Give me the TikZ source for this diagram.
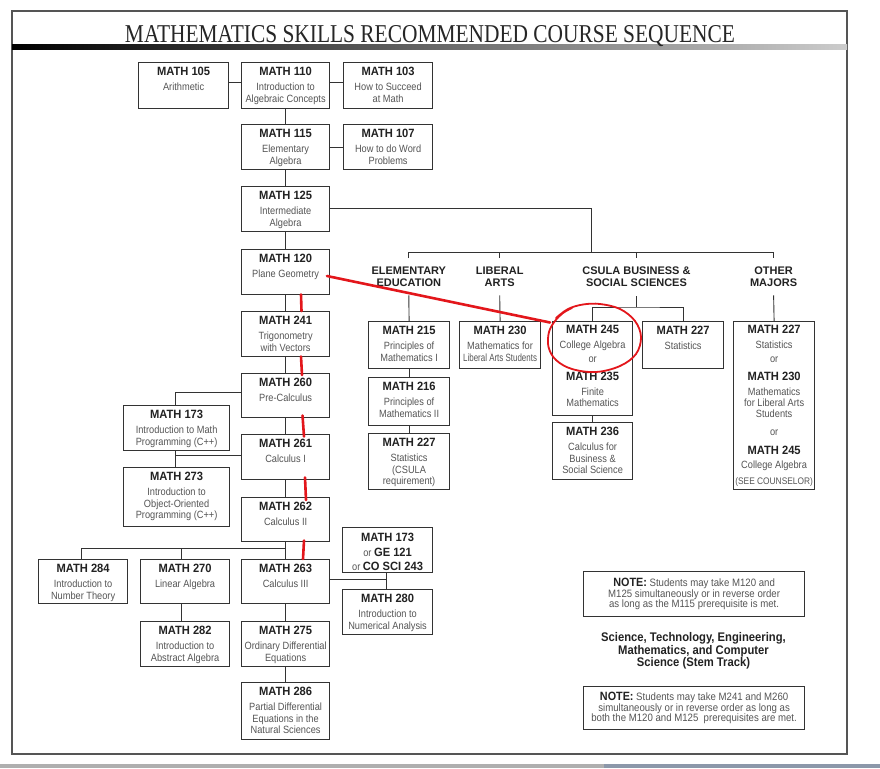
\documentclass[tikz,border=0pt]{standalone}
\usepackage{fontspec}
\usepackage{graphicx}
\setmainfont{Liberation Sans}
\newfontfamily\hdfont{Liberation Serif}
\newfontfamily\descf[FakeStretch=0.88]{Liberation Sans}
\newfontfamily\ttlf[FakeStretch=0.93]{Liberation Sans}
\newfontfamily\notef[FakeStretch=0.9]{Liberation Sans}
\definecolor{ink}{HTML}{222222}
\definecolor{desc}{HTML}{555555}
\definecolor{lineC}{HTML}{333333}
\definecolor{redC}{HTML}{E3161B}
\definecolor{frameC}{HTML}{555555}
\definecolor{stripA}{RGB}{175,175,175}
\definecolor{stripB}{RGB}{140,152,170}
\newcommand\crsT[1]{{\ttlf\bfseries\fontsize{12}{13}\selectfont\color{ink}#1}}
\newcommand\mkbox[5]{\node[box, minimum width={#4-#2}, minimum height={#5-#3}, anchor=north west] (#1) at (#2,#3) {};}
\newcommand\mkcourse[7]{\mkbox{#1}{#2}{#3}{#4}{#5}\node[txt] (#1-t) at ([yshift=-4.7pt]#1.north) {\crsT{#6}\\[4.3pt]#7};}
\begin{document}
\begin{tikzpicture}[x=1pt,y=-1pt,
  box/.style={draw=lineC, line width=1.2pt, inner sep=0pt, rectangle},
  txt/.style={anchor=north, align=center, inner sep=0pt, font=\descf\fontsize{10.5}{11.3}\selectfont, text=desc},
  conn/.style={draw=lineC, line width=0.9pt},
  grp/.style={align=center, inner sep=0pt, font=\bfseries\fontsize{11}{11.6}\selectfont, text=ink},
  notetxt/.style={align=center, inner sep=0pt, font=\notef\fontsize{10.7}{10.6}\selectfont, text=desc},
  stemtxt/.style={align=center, inner sep=0pt, font=\notef\bfseries\fontsize{12.5}{10.8}\selectfont, text=ink},
  redpen/.style={draw=redC, line width=2.6pt, line cap=round},
  redcirc/.style={draw=redC, line width=1.8pt, line cap=round}]
\useasboundingbox (0,0) rectangle (880,768);
\fill[white] (0,0) rectangle (880,768);
% frame and header
\draw[draw=frameC, line width=1.3pt] (12,11) rectangle (847,754);
\shade[left color=black, right color=black!20] (12,45) rectangle (847,50);
\node[anchor=base, inner sep=0pt, text=black!85] (title) at (430,42) {\resizebox{610pt}{17pt}{\hdfont MATHEMATICS SKILLS RECOMMENDED COURSE SEQUENCE}};
\fill[stripA] (0,764) rectangle (604,768);
\fill[stripB] (604,764) rectangle (880,768);

% main column
\mkcourse{m105}{138}{62}{228}{108}{MATH 105}{Arithmetic}
\mkcourse{m110}{241}{62}{329}{108}{MATH 110}{Introduction to\\Algebraic Concepts}
\mkcourse{m103}{343}{62}{432}{108}{MATH 103}{How to Succeed\\at Math}
\mkcourse{m115}{241}{124}{329}{169}{MATH 115}{Elementary\\Algebra}
\mkcourse{m107}{343}{124}{432}{169}{MATH 107}{How to do Word\\Problems}
\mkcourse{m125}{241}{186}{329}{231}{MATH 125}{Intermediate\\Algebra}
\mkcourse{m120}{241}{249}{329}{294}{MATH 120}{Plane Geometry}
\mkcourse{m241}{241}{311}{329}{356}{MATH 241}{Trigonometry\\with Vectors}
\mkcourse{m260}{241}{373}{329}{417}{MATH 260}{Pre-Calculus}
\mkcourse{m261}{241}{434}{329}{479}{MATH 261}{Calculus I}
\mkcourse{m262}{241}{497}{329}{541}{MATH 262}{Calculus II}
\mkcourse{m263}{241}{559}{329}{603}{MATH 263}{Calculus III}
\mkcourse{m173a}{123}{405}{229}{450}{MATH 173}{Introduction to Math\\Programming (C++)}
\mkcourse{m273}{123}{467}{229}{526}{MATH 273}{Introduction to\\Object-Oriented\\Programming (C++)}
\mkcourse{m284}{38}{559}{127}{603}{MATH 284}{Introduction to\\Number Theory}
\mkcourse{m270}{140}{559}{229}{603}{MATH 270}{Linear Algebra}
\mkcourse{m282}{140}{621}{229}{666}{MATH 282}{Introduction to\\Abstract Algebra}
\mkcourse{m275}{241}{621}{329}{666}{MATH 275}{Ordinary Differential\\Equations}
\mkcourse{m286}{241}{682}{329}{739}{MATH 286}{Partial Differential\\Equations in the\\Natural Sciences}
\mkbox{m173b}{342}{527}{432}{572}
\node[txt] (m173b-t) at ([yshift=-6pt]m173b.north) {\crsT{MATH 173}\\[3.7pt]or \crsT{GE 121}\\[3.1pt]or \crsT{CO SCI 243}};
\mkcourse{m280}{342}{589}{432}{634}{MATH 280}{Introduction to\\Numerical Analysis}

% majors
\mkcourse{m215}{368}{321}{449}{368}{MATH 215}{Principles of\\Mathematics I}
\mkcourse{m216}{368}{377}{449}{425}{MATH 216}{Principles of\\Mathematics II}
\mkcourse{m227a}{368}{433}{449}{489}{MATH 227}{Statistics\\(CSULA\\requirement)}
\mkcourse{m230}{459}{321}{540}{368}{MATH 230}{Mathematics for\\\scalebox{0.86}[1]{Liberal Arts Students}}
\mkbox{m245}{552}{321}{632}{415}
\node[txt] (m245-t) at ([yshift=-4pt]m245.north) {\crsT{MATH 245}\\[3.7pt]College Algebra\\[2.8pt]or\\[7pt]\crsT{MATH 235}\\[3.3pt]Finite\\Mathematics};
\mkcourse{m236}{552}{422}{632}{479}{MATH 236}{Calculus for\\Business \&\\Social Science}
\mkcourse{m227b}{642}{321}{723}{368}{MATH 227}{Statistics}
\mkbox{m227c}{733}{321}{814}{489}
\node[txt] (m227c-t) at ([yshift=-4pt]m227c.north) {\crsT{MATH 227}\\[3.7pt]Statistics\\[2.8pt]or\\[7pt]\crsT{MATH 230}\\[3pt]Mathematics\\for Liberal Arts\\Students\\[6.1pt]or\\[8pt]\crsT{MATH 245}\\[3pt]College Algebra\\[4.6pt]{\fontsize{9.5}{10}\selectfont(SEE COUNSELOR)}};

% group labels
\node[grp] (gEE) at (408.8,276.5) {ELEMENTARY\\EDUCATION};
\node[grp] (gLA) at (499.7,276.5) {LIBERAL\\ARTS};
\node[grp] (gCS) at (636.5,276.5) {CSULA BUSINESS \&\\SOCIAL SCIENCES};
\node[grp] (gOM) at (773.6,276.5) {OTHER\\MAJORS};

% notes
\mkbox{n1}{583}{571}{804}{616}
\node[notetxt] (n1-t) at (n1) {{\bfseries\fontsize{12}{10.6}\selectfont\color{ink}NOTE:} Students may take M120 and\\M125 simultaneously or in reverse order\\as long as the M115 prerequisite is met.};
\node[stemtxt] (stem) at (693.5,651) {Science, Technology, Engineering,\\Mathematics, and Computer\\Science (Stem Track)};
\mkbox{n2}{583}{686}{804}{729}
\node[notetxt] (n2-t) at (n2) {{\bfseries\fontsize{12}{10.6}\selectfont\color{ink}NOTE:} Students may take M241 and M260\\simultaneously or in reverse order as long as\\both the M120 and M125\ \ prerequisites are met.};

% connectors, top and main column
\draw[conn] ([yshift=3pt]m105.east) -- ([yshift=3pt]m110.west);
\draw[conn] ([yshift=3pt]m110.east) -- ([yshift=3pt]m103.west);
\draw[conn] (m110) -- (m115);
\draw[conn] (m115) -- (m107);
\draw[conn] (m115) -- (m125);
\draw[conn] (m125) -- (m120);
\draw[conn] (m120) -- (m241);
\draw[conn] (m241) -- (m260);
\draw[conn] (m260) -- (m261);
\draw[conn] (m261) -- (m262);
\draw[conn] (m262) -- (m263);
\draw[conn] (m263) -- (m275);
\draw[conn] (m275) -- (m286);
\draw[conn] ([yshift=3pt]m260.west) -| ([xshift=-1.5pt]m173a.north);
\draw[conn] ([yshift=1.5pt]m261.west) -| ([xshift=-1.5pt]m273.north);
\draw[conn] ([xshift=-1.5pt]m173a.south) -- ([xshift=-1.5pt]m273.north);
\coordinate (j1) at (285,548);
\draw[conn] ([xshift=-1.5pt]m284.north) |- (j1);
\draw[conn] ([xshift=-3.5pt]m270.north) -- ([xshift=-3.5pt]m270.north |- j1);
\draw[conn] ([xshift=-3.5pt]m270.south) -- ([xshift=-3.5pt]m282.north);
\draw[conn] ([yshift=2pt]m263.east) -| ([xshift=-1pt]m173b.south);
\draw[conn] ([xshift=-1pt]m173b.south) -- ([xshift=-1pt]m280.north);

% connectors, majors
\coordinate (barC) at (591,252);
\coordinate (barL) at (408.8,252);
\coordinate (barR) at (773.6,252);
\coordinate (tkL) at (408.8,258);
\coordinate (tkA) at (499.7,258);
\coordinate (tkAt) at (499.7,252);
\coordinate (tkC) at (636.5,258);
\coordinate (tkCt) at (636.5,252);
\coordinate (tkR) at (773.6,258);
\draw[conn] ([yshift=0.5pt]m125.east) -| (barC);
\draw[conn] (tkL) -- (barL) -- (barR) -- (tkR);
\draw[conn] (tkAt) -- (tkA);
\draw[conn] (tkCt) -- (tkC);
\draw[conn] ([yshift=-9pt]gEE.south) -- (m215.north);
\draw[conn] ([yshift=-9pt]gLA.south) -- (m230.north);
\draw[conn] ([yshift=-9pt]gOM.south) -- (m227c.north);
\coordinate (csJ) at (636.5,307);
\draw[conn] ([yshift=-10pt]gCS.south) -- (csJ);
\draw[conn] (m245.north) |- (csJ) -| (m227b.north);
\draw[conn] (m215) -- (m216);
\draw[conn] (m216) -- (m227a);
\draw[conn] (m245) -- (m236);

% red annotations
\draw[redpen] (327,276) -- (550,322.5);
\draw[redpen] (301,294.5) -- (301.5,311);
\draw[redpen] (301,356.5) -- (302,375);
\draw[redpen] (302.5,415.5) -- (304,436.5);
\draw[redpen] (305,477.5) -- (306,500);
\draw[redpen] (304,540.5) -- (303,559);
\draw[redcirc] plot[smooth, tension=0.6] coordinates {(556,318) (568,309) (583,304.5) (600,304) (620,309) (635,321) (641,337) (636,354) (620,366) (596,372) (572,369) (556,360) (548.5,347) (549,332) (555,321) (563,313) (572,308)};
\end{tikzpicture}
\end{document}
